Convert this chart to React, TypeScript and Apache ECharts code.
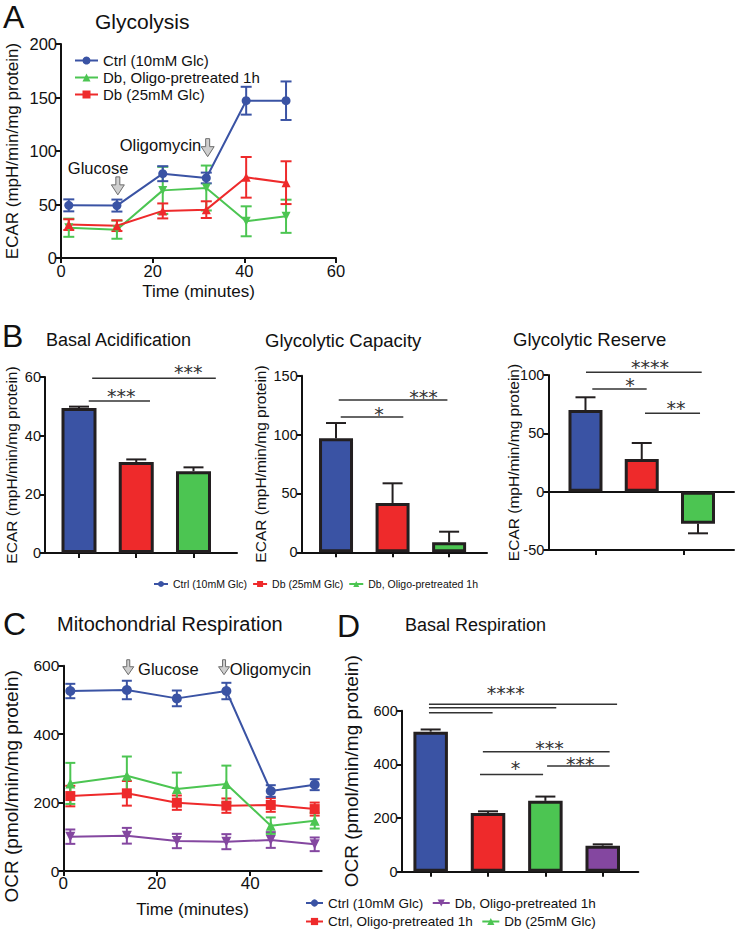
import React, { useEffect, useRef } from 'react';
import * as echarts from 'echarts';

const FONT = '"Liberation Sans", Arial, Helvetica, sans-serif';
const STAR_FONT = '"DejaVu Sans", sans-serif';
const BLUE = '#3a53a4';
const RED = '#ee2a2b';
const GREEN = '#4cc552';
const PURPLE = '#8447a0';
const EDGE = '#231f20';
const INK = '#111111';

const CTRL = 'Ctrl (10mM Glc)';
const DB = 'Db (25mM Glc)';
const DB_OLIGO = 'Db, Oligo-pretreated 1h';
const CTRL_OLIGO = 'Ctrl, Oligo-pretreated 1h';

// ---------- Panel A: Glycolysis (ECAR time course)
const glyTime = [1.7, 12.2, 22.2, 31.7, 40.4, 49.1];
const glyCtrl = [49.2, 49, 78.8, 74.8, 147, 147];
const glyCtrlErr = [5.6, 5.6, 7, 5, 13, 18];
const glyDbOligo = [28.3, 26.5, 63.2, 65.4, 34.3, 39];
const glyDbOligoErr = [8.5, 8.5, 22, 21, 14, 15.5];
const glyDb = [31.2, 30.2, 44, 45.2, 75.4, 70.4];
const glyDbErr = [5, 5, 7, 7.8, 19, 20];
const glyArrowX = [12.4, 32];
const glyArrowTip = [59, 94.7];
const glyArrowText = ['Glucose', 'Oligomycin'];
const glyArrowTextX = [8.1, 21.7];
const glyArrowTextY = [84, 105.6];

// ---------- Panel B: bar summaries
const groupsB = [CTRL, DB, DB_OLIGO];
const basalAcid = [49.4, 31.0, 27.9];
const basalAcidErr = [0.5, 0.9, 1.3];
const glyCap = [96.8, 41.9, 8.5];
const glyCapErr = [13, 16.7, 9];
const glyRes = [70, 28, -27.4];
const glyResErr = [10.9, 13.7, 8.3];

const sigB1Lines = [[1.17, 2.24, 51.8], [1.23, 3.39, 59.6]];
const sigB1Text = ['***', '***'];
const sigB1TextPos = [[1.74, 55.0], [2.91, 63.2]];
const sigB2Lines = [[1.083, 2.19, 115], [1.048, 2.97, 129.3]];
const sigB2Text = ['*', '***'];
const sigB2TextPos = [[1.76, 121.6], [2.545, 136]];
const sigB3Lines = [[1.009, 3.066, 102.3], [1.121, 2.088, 88], [2.058, 3.036, 67.2]];
const sigB3Text = ['****', '*', '**'];
const sigB3TextPos = [[2.147, 110.5], [1.79, 95.1], [2.609, 75.7]];

// ---------- Panel C: Mitochondrial respiration (OCR time course)
const ocrTime = [1.5, 13.6, 24.3, 34.9, 44.4, 53.8];
const ocrCtrl = [526, 529, 504.5, 526, 233.8, 252.3];
const ocrCtrlErr = [21, 27, 23, 24, 17, 16];
const ocrCtrlOligo = [219, 227, 199.7, 191, 193, 181];
const ocrCtrlOligoErr = [30, 36, 21, 21, 20, 19];
const ocrDb = [256, 278.6, 239.6, 254, 132.5, 147];
const ocrDbErr = [60, 56, 48, 54, 24, 23];
const ocrDbOligo = [100.3, 103, 87.7, 85.7, 90.6, 78];
const ocrDbOligoErr = [21, 23, 21, 22, 23, 20];
const ocrArrowX = [13.9, 34.4];
const ocrArrowTip = [573.6, 573.6];
const ocrArrowText = ['Glucose', 'Oligomycin'];
const ocrArrowTextX = [16.0, 35.6];
const ocrArrowTextY = [590, 590];

// ---------- Panel D: Basal respiration
const basalResp = [522, 219, 264, 97];
const basalRespErr = [8, 6, 16, 5];
const sigDLines = [
  [0.97, 4.25, 623.6], [0.97, 3.19, 611], [0.97, 2.08, 592.5],
  [1.91, 4.12, 447], [1.86, 2.96, 362.7], [3.03, 4.12, 393.8],
];
const sigDText = ['****', '', '', '***', '*', '***'];
const sigDTextPos = [[2.31, 681], [0, 0], [0, 0], [3.07, 478.6], [2.48, 404], [3.61, 420]];

// ---------- helpers
function textEl(text: string, x: number, y: number, size: number) {
  return {
    type: 'text', x, y, silent: true,
    style: {
      text, font: `${size}px ${FONT}`, fill: INK,
      verticalAlign: 'middle', textVerticalAlign: 'middle',
    },
  };
}

function valueAxis(o: any) {
  return {
    type: 'value',
    gridIndex: o.grid,
    min: o.min, max: o.max, interval: o.interval,
    position: o.position,
    name: o.name,
    nameLocation: 'middle',
    nameGap: o.nameGap,
    nameMoveOverlap: false,
    nameTextStyle: { fontFamily: FONT, fontSize: o.nameSize, color: INK, ...(o.namePadding ? { padding: o.namePadding } : {}) },
    axisLine: { show: o.lineShow ?? true, onZero: o.onZero ?? false, lineStyle: { color: INK, width: 2 } },
    axisTick: {
      show: o.tickShow ?? true, length: 5,
      lineStyle: { color: INK, width: 2 },
      ...(o.ticks ? { customValues: o.ticks } : {}),
    },
    axisLabel: {
      show: o.labelShow ?? true, fontFamily: FONT, fontSize: o.labelSize ?? 15, color: INK, margin: 4,
      ...(o.labels ? { customValues: o.labels } : {}),
    },
    splitLine: { show: false },
  };
}

function lineSeries(name: string, t: number[], v: number[], color: string, symbol: string, size: number, rot: number, xi: number, yi: number) {
  return {
    type: 'line', name, xAxisIndex: xi, yAxisIndex: yi,
    data: t.map((x, i) => [x, v[i]]),
    symbol, symbolSize: size, symbolRotate: rot,
    itemStyle: { color }, lineStyle: { color, width: 2 },
    z: 3, silent: true,
  };
}

function legendDummy(name: string, color: string, symbol: string, xi: number, yi: number) {
  return {
    type: 'line', name, xAxisIndex: xi, yAxisIndex: yi, data: [],
    symbol, itemStyle: { color }, lineStyle: { color, width: 2 }, silent: true,
  };
}

function errSeries(t: number[], v: number[], e: number[], color: string, cap: number, xi: number, yi: number) {
  return {
    type: 'custom', xAxisIndex: xi, yAxisIndex: yi, silent: true, clip: false, z: 2,
    data: t.map((x, i) => [x, v[i], e[i]]),
    renderItem: (_p: any, api: any) => {
      const x = api.value(0), y = api.value(1), er = api.value(2);
      const hi = api.coord([x, y + er]);
      const lo = api.coord([x, y - er]);
      const st = { stroke: color, lineWidth: 2 };
      return {
        type: 'group', children: [
          { type: 'line', shape: { x1: hi[0], y1: hi[1], x2: lo[0], y2: lo[1] }, style: st },
          { type: 'line', shape: { x1: hi[0] - cap, y1: hi[1], x2: hi[0] + cap, y2: hi[1] }, style: st },
          { type: 'line', shape: { x1: lo[0] - cap, y1: lo[1], x2: lo[0] + cap, y2: lo[1] }, style: st },
        ],
      };
    },
  };
}

function barSeries(vals: number[], colors: string[], xi: number, yi: number, width: number) {
  return {
    type: 'bar', xAxisIndex: xi, yAxisIndex: yi, barWidth: width, silent: true, z: 3,
    data: vals.map((v, i) => ({ value: [i + 1, v], itemStyle: { color: colors[i], borderColor: EDGE, borderWidth: 3 } })),
  };
}

function barErrSeries(vals: number[], errs: number[], xi: number, yi: number, cap: number) {
  return {
    type: 'custom', xAxisIndex: xi, yAxisIndex: yi, silent: true, clip: false, z: 2,
    data: vals.map((v, i) => [i + 1, v, errs[i]]),
    renderItem: (_p: any, api: any) => {
      const x = api.value(0), y = api.value(1), er = api.value(2);
      const end = y >= 0 ? y + er : y - er;
      const a = api.coord([x, y]);
      const b = api.coord([x, end]);
      const st = { stroke: EDGE, lineWidth: 2 };
      return {
        type: 'group', children: [
          { type: 'line', shape: { x1: a[0], y1: a[1], x2: b[0], y2: b[1] }, style: st },
          { type: 'line', shape: { x1: b[0] - cap, y1: b[1], x2: b[0] + cap, y2: b[1] }, style: st },
        ],
      };
    },
  };
}

function sigSeries(lines: number[][], texts: string[], pos: number[][], xi: number, yi: number) {
  return {
    type: 'custom', xAxisIndex: xi, yAxisIndex: yi, silent: true, clip: false, z: 5,
    data: lines.map((l, i) => [l[0], l[1], l[2], pos[i][0], pos[i][1]]),
    renderItem: (p: any, api: any) => {
      const a = api.coord([api.value(0), api.value(2)]);
      const b = api.coord([api.value(1), api.value(2)]);
      const t = api.coord([api.value(3), api.value(4)]);
      const lab = texts[p.dataIndex];
      const children: any[] = [
        { type: 'line', shape: { x1: a[0], y1: a[1], x2: b[0], y2: b[1] }, style: { stroke: '#333', lineWidth: 1.5 } },
      ];
      if (lab) {
        children.push({
          type: 'text', x: t[0], y: t[1] + 4.5,
          style: {
            text: lab, font: `19px ${STAR_FONT}`, fill: '#333',
            align: 'center', textAlign: 'center', verticalAlign: 'middle', textVerticalAlign: 'middle',
          },
        });
      }
      return { type: 'group', children };
    },
  };
}

function arrowSeries(ax: number[], tip: number[], texts: string[], tx: number[], ty: number[], align: string, dims: number[], fontSize: number, xi: number, yi: number) {
  const [s, h, H, hh] = dims;
  return {
    type: 'custom', xAxisIndex: xi, yAxisIndex: yi, silent: true, clip: false, z: 6,
    data: ax.map((x, i) => [x, tip[i], tx[i], ty[i]]),
    renderItem: (p: any, api: any) => {
      const c = api.coord([api.value(0), api.value(1)]);
      const t = api.coord([api.value(2), api.value(3)]);
      const X = c[0], Y = c[1];
      return {
        type: 'group', children: [
          {
            type: 'polygon',
            shape: { points: [[X - s, Y - H], [X + s, Y - H], [X + s, Y - hh], [X + h, Y - hh], [X, Y], [X - h, Y - hh], [X - s, Y - hh]] },
            style: { fill: '#cfcfcf', stroke: '#6d6d6d', lineWidth: 1 },
          },
          {
            type: 'text', x: t[0], y: t[1],
            style: {
              text: texts[p.dataIndex], font: `${fontSize}px ${FONT}`, fill: INK,
              align, textAlign: align, verticalAlign: 'middle', textVerticalAlign: 'middle',
            },
          },
        ],
      };
    },
  };
}

// ---------- options
function optionA(): any {
  return {
    animation: false,
    backgroundColor: 'transparent',
    grid: [{ left: 61, top: 44, width: 275, height: 214, outerBoundsMode: 'none', containLabel: false }],
    xAxis: [valueAxis({ grid: 0, min: 0, max: 60, interval: 20, name: 'Time (minutes)', nameGap: 25, nameSize: 17, labelSize: 16.5 })],
    yAxis: [valueAxis({ grid: 0, min: 0, max: 200, interval: 50, name: 'ECAR (mpH/min/mg protein)', nameGap: 40, nameSize: 17, labelSize: 16.5 })],
    legend: {
      left: 69, top: 48, orient: 'vertical', itemWidth: 23, itemHeight: 10, itemGap: 2,
      data: [CTRL, DB_OLIGO, DB], selectedMode: false,
      textStyle: { fontFamily: FONT, fontSize: 15, color: INK },
    },
    graphic: [textEl('A', 3, 17.2, 32), textEl('Glycolysis', 95, 21.7, 21)],
    series: [
      legendDummy(DB_OLIGO, GREEN, 'triangle', 0, 0),
      legendDummy(DB, RED, 'rect', 0, 0),
      errSeries(glyTime, glyDbOligo, glyDbOligoErr, GREEN, 5.5, 0, 0),
      errSeries(glyTime, glyDb, glyDbErr, RED, 5.5, 0, 0),
      errSeries(glyTime, glyCtrl, glyCtrlErr, BLUE, 5.5, 0, 0),
      lineSeries(DB_OLIGO, glyTime, glyDbOligo, GREEN, 'triangle', 9, 180, 0, 0),
      lineSeries(DB, glyTime, glyDb, RED, 'triangle', 9, 0, 0, 0),
      lineSeries(CTRL, glyTime, glyCtrl, BLUE, 'circle', 9, 0, 0, 0),
      arrowSeries(glyArrowX, glyArrowTip, glyArrowText, glyArrowTextX, glyArrowTextY, 'center', [2, 6.5, 18, 10], 16.5, 0, 0),
    ],
  };
}

function optionB(): any {
  const colorsB = [BLUE, RED, GREEN];
  return {
    animation: false,
    backgroundColor: 'transparent',
    grid: [
      { left: 45, top: 67, width: 192, height: 176, outerBoundsMode: 'none', containLabel: false },
      { left: 301.7, top: 65.7, width: 185.3, height: 176.6, outerBoundsMode: 'none', containLabel: false },
      { left: 548.3, top: 65, width: 185.7, height: 175, outerBoundsMode: 'none', containLabel: false },
    ],
    xAxis: [
      valueAxis({ grid: 0, min: 0.406, max: 3.76, ticks: [1, 2, 3], labelShow: false }),
      valueAxis({ grid: 1, min: 0.393, max: 3.67, ticks: [1, 2, 3], labelShow: false }),
      valueAxis({ grid: 2, min: 0.339, max: 3.64, onZero: true, tickShow: false, labelShow: false, position: 'bottom' }),
      valueAxis({ grid: 2, min: 0.339, max: 3.64, ticks: [1.18, 2.74], labelShow: false, position: 'bottom' }),
    ],
    yAxis: [
      valueAxis({ grid: 0, min: 0, max: 60, interval: 20, name: 'ECAR (mpH/min/mg protein)', nameGap: 26, nameSize: 15.5, labelSize: 14.5 }),
      valueAxis({ grid: 1, min: 0, max: 150, interval: 50, name: 'ECAR (mpH/min/mg protein)', nameGap: 33, nameSize: 15.5, labelSize: 14.5 }),
      valueAxis({ grid: 2, min: -50, max: 100, interval: 50, name: 'ECAR (mpH/min/mg protein)', nameGap: 27, nameSize: 15.5, labelSize: 14.5 }),
    ],
    legend: {
      left: 148, top: 263.5, orient: 'horizontal', itemWidth: 14, itemHeight: 7.5, itemGap: 5,
      data: groupsB, selectedMode: false,
      textStyle: { fontFamily: FONT, fontSize: 10.5, color: INK },
    },
    graphic: [
      textEl('B', 2, 25.6, 32),
      textEl('Basal Acidification', 46, 29.8, 18),
      textEl('Glycolytic Capacity', 265, 30.6, 18.5),
      textEl('Glycolytic Reserve', 513, 29.6, 18.5),
    ],
    series: [
      legendDummy(CTRL, BLUE, 'circle', 0, 0),
      legendDummy(DB, RED, 'rect', 0, 0),
      legendDummy(DB_OLIGO, GREEN, 'triangle', 0, 0),
      barErrSeries(basalAcid, basalAcidErr, 0, 0, 10),
      barSeries(basalAcid, colorsB, 0, 0, 35),
      sigSeries(sigB1Lines, sigB1Text, sigB1TextPos, 0, 0),
      barErrSeries(glyCap, glyCapErr, 1, 1, 10),
      barSeries(glyCap, colorsB, 1, 1, 34),
      sigSeries(sigB2Lines, sigB2Text, sigB2TextPos, 1, 1),
      barErrSeries(glyRes, glyResErr, 2, 2, 10),
      barSeries(glyRes, colorsB, 2, 2, 34),
      sigSeries(sigB3Lines, sigB3Text, sigB3TextPos, 2, 2),
    ],
  };
}

function optionCD(): any {
  const colorsD = [BLUE, RED, GREEN, PURPLE];
  return {
    animation: false,
    backgroundColor: 'transparent',
    grid: [
      { left: 63.3, top: 65.7, width: 258.4, height: 205.3, outerBoundsMode: 'none', containLabel: false },
      { left: 401.7, top: 110.7, width: 236.6, height: 161, outerBoundsMode: 'none', containLabel: false },
    ],
    xAxis: [
      valueAxis({ grid: 0, min: 0, max: 55.3, ticks: [0, 20, 40], labels: [0, 20, 40], name: 'Time (minutes)', nameGap: 30, nameSize: 17, labelSize: 17 }),
      valueAxis({ grid: 1, min: 0.495, max: 4.62, ticks: [1, 2, 3, 4], labelShow: false }),
    ],
    yAxis: [
      valueAxis({ grid: 0, min: 0, max: 600, interval: 200, name: 'OCR (pmol/min/mg protein)', nameGap: 42, nameSize: 19, labelSize: 15.5, namePadding: [0, 36, 0, 0] }),
      valueAxis({ grid: 1, min: 0, max: 600, interval: 200, name: 'OCR (pmol/min/mg protein)', nameGap: 41, nameSize: 19, labelSize: 14.5, namePadding: [0, 0, 0, 40] }),
    ],
    legend: [
      {
        left: 300, top: 291, orient: 'horizontal', itemWidth: 17, itemHeight: 9, itemGap: 8.5,
        data: [CTRL, DB_OLIGO], selectedMode: false,
        textStyle: { fontFamily: FONT, fontSize: 13.5, color: INK },
      },
      {
        left: 300, top: 309.5, orient: 'horizontal', itemWidth: 17, itemHeight: 9, itemGap: 8.5,
        data: [CTRL_OLIGO, DB], selectedMode: false,
        textStyle: { fontFamily: FONT, fontSize: 13.5, color: INK },
      },
    ],
    graphic: [
      textEl('C', 3, 23.9, 32),
      textEl('Mitochondrial Respiration', 57, 23.8, 20),
      textEl('D', 337, 25.6, 32),
      textEl('Basal Respiration', 405, 24.5, 18),
    ],
    series: [
      errSeries(ocrTime, ocrDbOligo, ocrDbOligoErr, PURPLE, 5, 0, 0),
      errSeries(ocrTime, ocrCtrlOligo, ocrCtrlOligoErr, RED, 5, 0, 0),
      errSeries(ocrTime, ocrDb, ocrDbErr, GREEN, 5, 0, 0),
      errSeries(ocrTime, ocrCtrl, ocrCtrlErr, BLUE, 5, 0, 0),
      lineSeries(CTRL, ocrTime, ocrCtrl, BLUE, 'circle', 10, 0, 0, 0),
      lineSeries(DB_OLIGO, ocrTime, ocrDbOligo, PURPLE, 'triangle', 10, 180, 0, 0),
      lineSeries(CTRL_OLIGO, ocrTime, ocrCtrlOligo, RED, 'rect', 10, 0, 0, 0),
      lineSeries(DB, ocrTime, ocrDb, GREEN, 'triangle', 10, 0, 0, 0),
      arrowSeries(ocrArrowX, ocrArrowTip, ocrArrowText, ocrArrowTextX, ocrArrowTextY, 'left', [1.5, 5.5, 15, 8], 16.5, 0, 0),
      barErrSeries(basalResp, basalRespErr, 1, 1, 10),
      barSeries(basalResp, colorsD, 1, 1, 34.5),
      sigSeries(sigDLines, sigDText, sigDTextPos, 1, 1),
    ],
  };
}

function Panel({ top, height, build }: { top: number; height: number; build: () => any }) {
  const ref = useRef<HTMLDivElement>(null);
  useEffect(() => {
    if (!ref.current) return;
    const chart = echarts.init(ref.current, undefined, { renderer: 'svg' });
    chart.setOption(build());
    return () => chart.dispose();
  }, [build]);
  return <div ref={ref} style={{ position: 'absolute', left: 0, top, width: 738, height }} />;
}

export default function App() {
  return (
    <div style={{ position: 'absolute', left: 0, top: 0, width: 738, height: 931, background: '#ffffff', overflow: 'hidden' }}>
      <Panel top={0} height={310} build={optionA} />
      <Panel top={310} height={290} build={optionB} />
      <Panel top={600} height={331} build={optionCD} />
    </div>
  );
}
